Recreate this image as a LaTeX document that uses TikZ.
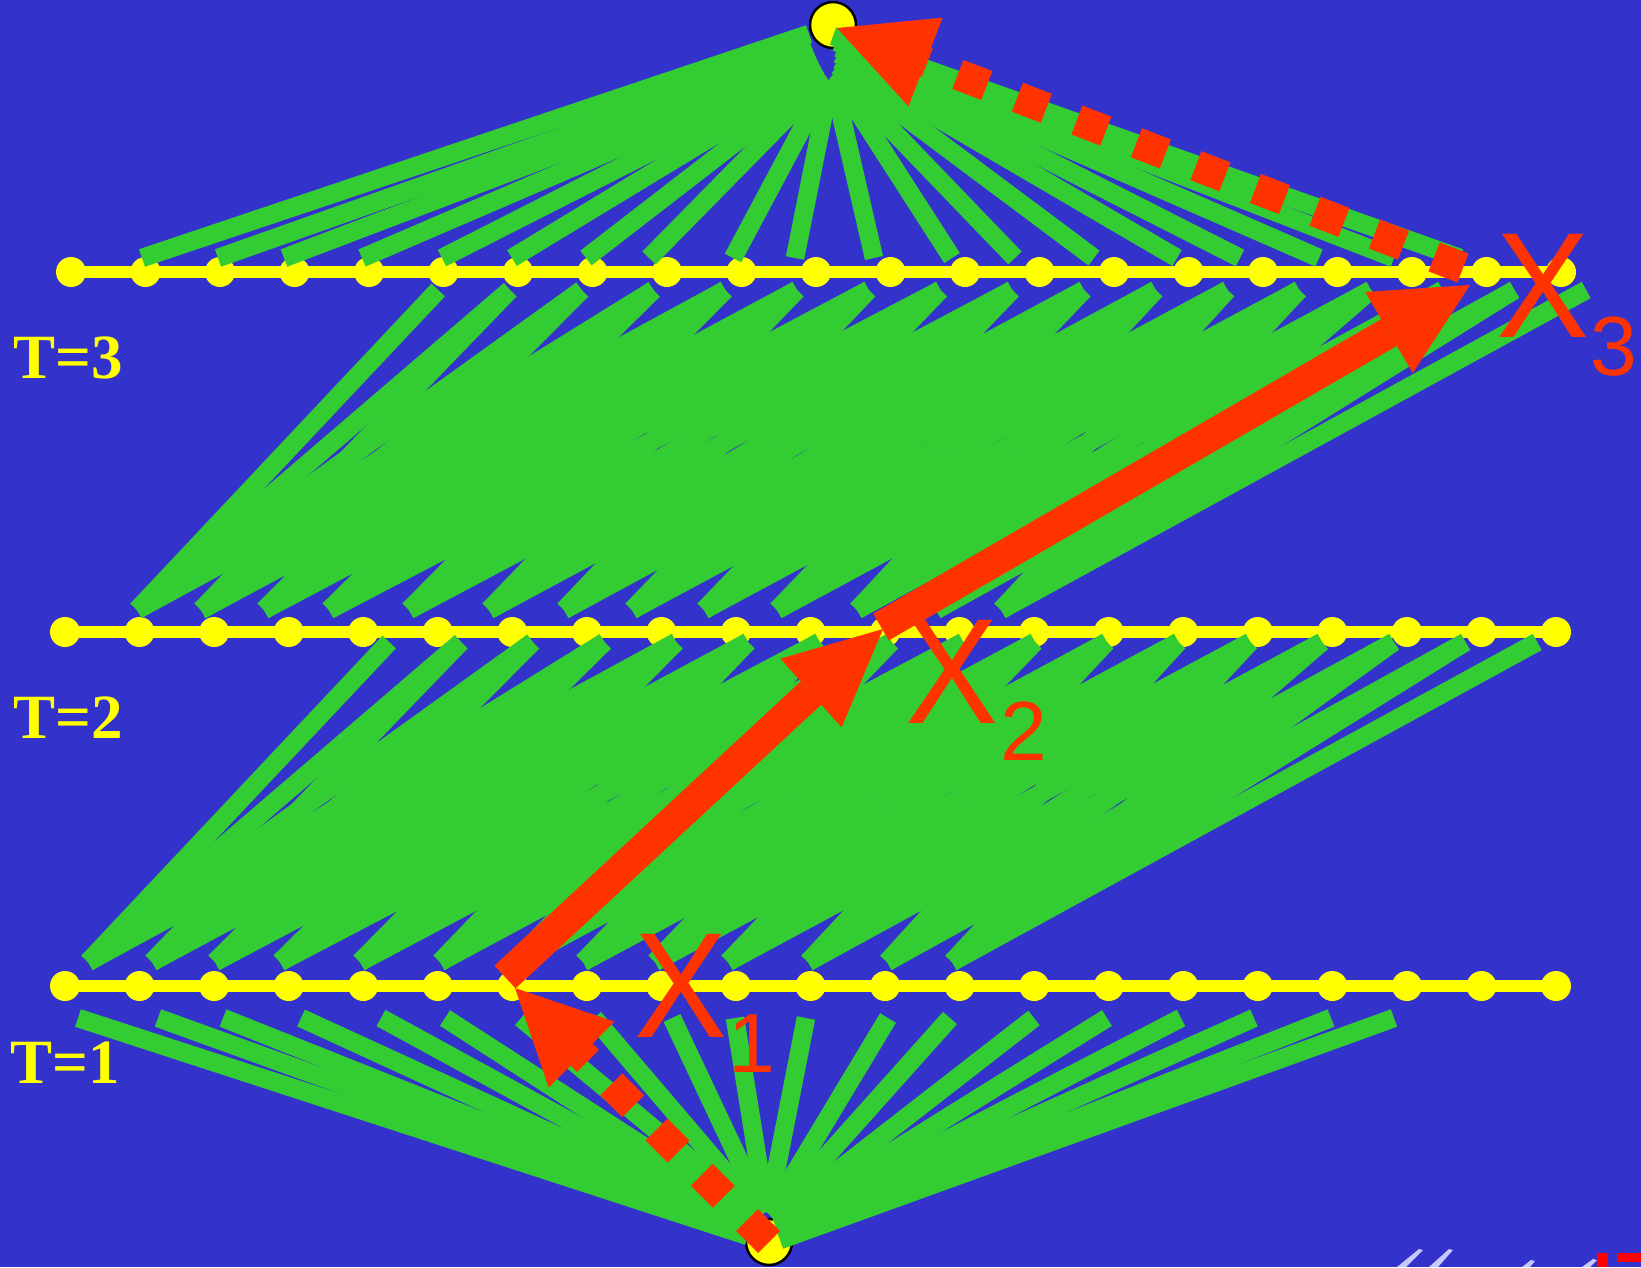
\documentclass[tikz,border=0pt]{standalone}
\usepackage{fontspec}
\usepackage{graphicx}
\setmainfont{Liberation Serif}
\newfontfamily\sansX{Liberation Sans}
\usetikzlibrary{calc}
\definecolor{bgc}{RGB}{51,51,204}
\definecolor{grn}{RGB}{51,204,51}
\definecolor{yel}{RGB}{255,255,0}
\definecolor{redc}{RGB}{255,51,0}
\definecolor{lav}{RGB}{200,200,255}
\newcommand{\redhead}[3]{\fill[redc] (#1) -- ($(#2)!#3pt!90:(#1)$) -- ($(#2)!#3pt!-90:(#1)$) -- cycle;}
\begin{document}
\begin{tikzpicture}[x=1pt,y=-1pt,
  glink/.style={grn, line width=18.5pt},
  rail/.style={yel, line width=12pt},
  dotnode/.style={circle, fill=yel, minimum size=30pt, inner sep=0pt},
  endnode/.style={circle, fill=yel, draw=black, line width=2.5pt, minimum size=46pt, inner sep=0pt},
  tlabel/.style={anchor=base west, inner sep=0pt, text=yel, font=\fontsize{63}{63}\selectfont\bfseries},
  xlabel/.style={anchor=base west, inner sep=0pt, text=redc, font=\sansX\fontsize{150}{150}\selectfont},
  xsub/.style={anchor=base west, inner sep=0pt, text=redc, font=\sansX\fontsize{84}{84}\selectfont},
  redshaft/.style={redc, line width=31pt},
  reddash/.style={redc, line width=31pt, dash pattern=on 31pt off 33pt}]
\useasboundingbox (0,0) rectangle (1641,1267);
\fill[bgc] (0,0) rectangle (1641,1267);
% rails and dots
\foreach \j in {0,...,20} {
  \node[dotnode] (a\j) at ({71+74.5*\j},272) {};
  \node[dotnode] (b\j) at ({65+74.55*\j},632) {};
  \node[dotnode] (c\j) at ({65+74.55*\j},986) {};
}
\draw[rail] (a0.center) -- (a20.center);
\draw[rail] (b0.center) -- (b20.center);
\draw[rail] (c0.center) -- (c20.center);
% end nodes
\node[endnode] (top) at (833,25) {};
\node[endnode] (bot) at (769,1242) {};
% top fan
\foreach \sx/\sy/\ex in {809/34/142, 812/48/218, 815/56/284, 818/62/362, 820/66/442,
    822/70/512, 824/74/586, 826/78/649, 828/80/733, 830/82/795, 833/80/874,
    835/76/952, 836/72/1015, 837/66/1094, 838/60/1177, 838/54/1240, 838/48/1319,
    836/42/1394, 833/36/1460}
  \draw[glink] (\sx,\sy) -- (\ex,258);
% bottom fan
\foreach \sx/\sy/\ex in {748/1236/78, 750/1232/158, 752/1229/223, 754/1226/301,
    756/1223/381, 758/1220/445, 760/1217/521, 762/1215/594, 764/1213/672,
    766/1212/735, 768/1212/806, 770/1214/888, 772/1217/950, 774/1220/1034,
    776/1224/1107, 777/1228/1181, 778/1232/1254, 779/1236/1331, 780/1240/1394}
  \draw[glink] (\sx,\sy) -- (\ex,1018);
% layer networks
\foreach \sh in {0,1} {
  \begin{scope}[shift={({49*\sh},{-352*\sh})}]
  \foreach \s [count=\i from 0] in {88,152,215,280,360,440,515,583,655,728,808,887,952} {
    \foreach \d in {4,...,8} {
      \pgfmathsetmacro\tx{65+74.55*(\i+\d)+26-2.8*(\i+\d-4)}
      \draw[glink] (\s,962) -- (\tx,642);
    }
  }
  \end{scope}
}
% red dashed arrow bottom -> X1
\coordinate (tipA) at (515,988);
\coordinate (baseA) at (581.5,1054.5);
\draw[reddash] (bot.center) -- (baseA);
\redhead{tipA}{baseA}{46.5}
% red dashed arrow X3 -> top
\coordinate (startB) at (1463,268);
\coordinate (tipB) at (837,28);
\coordinate (baseB) at (925.5,62);
\draw[redc, line width=31pt, dash pattern=on 31pt off 32.75pt] (startB) -- (baseB);
\redhead{tipB}{baseB}{47.5}
% solid arrow X1 -> X2
\coordinate (tailC) at (505,977);
\coordinate (baseC) at (811,693);
\coordinate (tipC) at (883,629);
\draw[redshaft] (tailC) -- (baseC);
\redhead{tipC}{baseC}{46}
% solid arrow X2 -> X3
\coordinate (tailD) at (881,627);
\coordinate (baseD) at (1389,332.5);
\coordinate (tipD) at (1470,285);
\draw[redshaft] (tailD) -- (baseD);
\redhead{tipD}{baseD}{47}
% labels
\node[tlabel] (t3) at (13,378) {T=3};
\node[tlabel] (t2) at (13,738) {T=2};
\node[tlabel] (t1) at (10,1083) {T=1};
\node[xlabel] (x1) at (634,1037) {\scalebox{0.93}[1]{X}};
\node[xsub] (s1) at (728,1072) {1};
\node[xlabel] (x2) at (905,723) {\scalebox{0.93}[1]{X}};
\node[xsub] (s2) at (1000,760) {2};
\node[xlabel] (x3) at (1496,337) {\scalebox{0.93}[1]{X}};
\node[xsub] (s3) at (1590,375) {3};
% clipped logo fragments at bottom right
\fill[lav] (1397,1267) -- (1419,1249) -- (1423,1250) -- (1406,1267) -- cycle;
\fill[lav] (1429,1267) -- (1449,1249) -- (1453,1250) -- (1438,1267) -- cycle;
\fill[lav] (1522,1267) -- (1531,1260) -- (1535,1261) -- (1530,1267) -- cycle;
\fill[lav] (1582,1267) -- (1593,1259) -- (1597,1260) -- (1590,1267) -- cycle;
\fill[red] (1597,1253) rectangle (1608,1267);
\fill[red] (1617,1253) rectangle (1641,1262);
\end{tikzpicture}
\end{document}
